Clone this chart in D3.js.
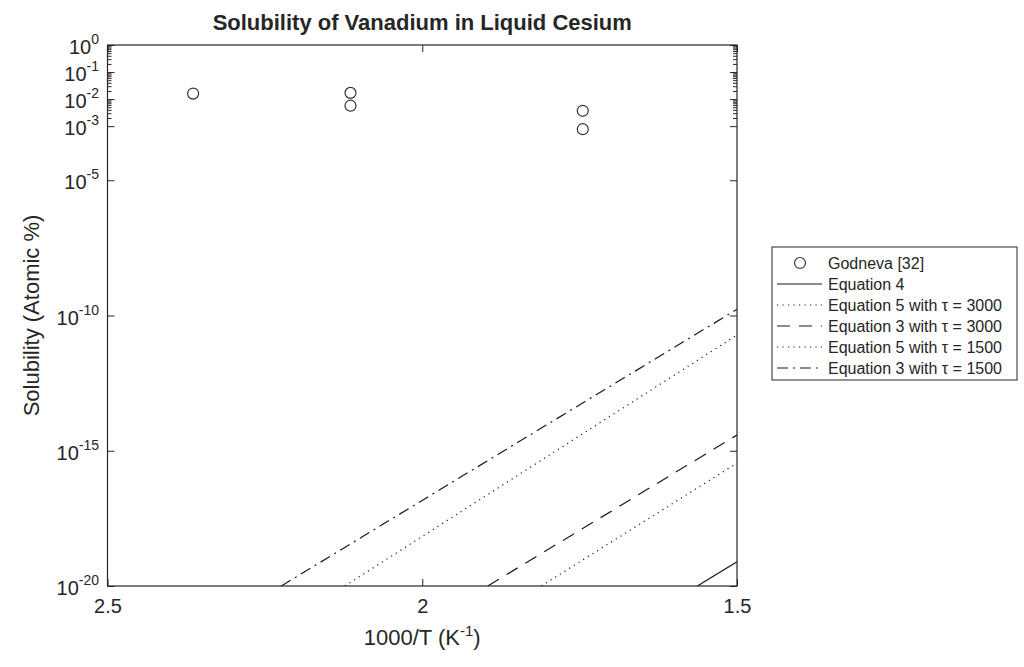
<!DOCTYPE html>
<html><head><meta charset="utf-8">
<script src="https://cdn.jsdelivr.net/npm/d3@7"></script>
<style>
body{margin:0;background:#fff;}
text{font-family:"Liberation Sans",Arial,Helvetica,sans-serif;fill:#262626;}
</style></head>
<body><svg id="c" width="1024" height="667"></svg>
<script>
// ---- data ----
const godnevaX = [2.364, 2.114, 2.114, 1.745, 1.745];
const godnevaY = [1.6e-2, 1.7e-2, 5.7e-3, 3.7e-3, 7.7e-4];

const eq4X = [1.563, 1.5];
const eq4Y = [1e-20, 7.9e-20];
const eq5t3000X = [1.811, 1.5];
const eq5t3000Y = [1e-20, 3.5e-16];
const eq3t3000X = [1.896, 1.5];
const eq3t3000Y = [1e-20, 3.8e-15];
const eq5t1500X = [2.123, 1.5];
const eq5t1500Y = [1e-20, 1.9e-11];
const eq3t1500X = [2.224, 1.5];
const eq3t1500Y = [1e-20, 1.7e-10];

const xTicks = [2.5, 2, 1.5];
const xTickLabels = ["2.5", "2", "1.5"];
const yTicks = [1e0, 1e-1, 1e-2, 1e-3, 1e-5, 1e-10, 1e-15, 1e-20];
const yTickExps = ["0", "-1", "-2", "-3", "-5", "-10", "-15", "-20"];
const yMinorDecades = [1e-1, 1e-2, 1e-3];

const legendLabels = ["Godneva [32]", "Equation 4", "Equation 5 with \u03C4 = 3000",
  "Equation 3 with \u03C4 = 3000", "Equation 5 with \u03C4 = 1500", "Equation 3 with \u03C4 = 1500"];

// ---- layout ----
const svg = d3.select("#c");
const L = 107.5, R = 737, T = 45, B = 586;
const x = d3.scaleLinear().domain([2.5, 1.5]).range([L, R]);
const y = d3.scaleLog().domain([1e-20, 1]).range([B, T]);
const ink = "#262626";

const styles = {
  solid: null,
  dotted: "1.2,4.3",
  dashed: "13,9",
  dashdot: "11,5,2,5"
};

const series = [
  {xs: eq4X, ys: eq4Y, dash: styles.solid},
  {xs: eq5t3000X, ys: eq5t3000Y, dash: styles.dotted},
  {xs: eq3t3000X, ys: eq3t3000Y, dash: styles.dashed},
  {xs: eq5t1500X, ys: eq5t1500Y, dash: styles.dotted},
  {xs: eq3t1500X, ys: eq3t1500Y, dash: styles.dashdot}
];

svg.append("defs").append("clipPath").attr("id", "clip")
  .append("rect").attr("x", L).attr("y", T).attr("width", R - L).attr("height", B - T);

const plot = svg.append("g").attr("clip-path", "url(#clip)");
const line = d3.line().x(d => x(d[0])).y(d => y(d[1]));
series.forEach(s => {
  plot.append("path")
    .attr("d", line(s.xs.map((v, i) => [v, s.ys[i]])))
    .attr("fill", "none").attr("stroke", "#1a1a1a").attr("stroke-width", 1.2)
    .attr("stroke-dasharray", s.dash);
});

plot.selectAll("circle.g").data(godnevaX.map((v, i) => [v, godnevaY[i]])).enter()
  .append("circle").attr("cx", d => x(d[0])).attr("cy", d => y(d[1])).attr("r", 5.5)
  .attr("fill", "none").attr("stroke", "#333").attr("stroke-width", 1.2);

// ---- axes ----
function styleAxis(g) {
  g.select(".domain").remove();
  g.selectAll(".tick line").attr("stroke", ink);
}
const minorVals = [];
yMinorDecades.forEach(d => { for (let k = 2; k <= 9; k++) minorVals.push(d * k); });

svg.append("g").attr("transform", `translate(${L},0)`)
  .call(d3.axisLeft(y).tickValues(yTicks).tickSize(-7).tickFormat("")).call(styleAxis);
svg.append("g").attr("transform", `translate(${L},0)`)
  .call(d3.axisLeft(y).tickValues(minorVals).tickSize(-4).tickFormat("")).call(styleAxis);
svg.append("g").attr("transform", `translate(${R},0)`)
  .call(d3.axisRight(y).tickValues(yTicks).tickSize(-7).tickFormat("")).call(styleAxis);
svg.append("g").attr("transform", `translate(${R},0)`)
  .call(d3.axisRight(y).tickValues(minorVals).tickSize(-4).tickFormat("")).call(styleAxis);
const gb = svg.append("g").attr("transform", `translate(0,${B})`)
  .call(d3.axisBottom(x).tickValues(xTicks).tickSize(-7).tickPadding(10)
    .tickFormat((d, i) => xTickLabels[i]));
styleAxis(gb);
gb.selectAll(".tick text").attr("font-size", 20).attr("fill", ink)
  .attr("font-family", '"Liberation Sans",Arial,sans-serif').attr("dy", "0.85em");
svg.append("g").attr("transform", `translate(0,${T})`)
  .call(d3.axisTop(x).tickValues(xTicks).tickSize(-7).tickFormat("")).call(styleAxis);

// y tick labels with superscripts
yTicks.forEach((v, i) => {
  const t = svg.append("text").attr("x", 99).attr("y", y(v) + 9)
    .attr("text-anchor", "end").attr("font-size", 20);
  t.append("tspan").text("10");
  t.append("tspan").attr("font-size", 14).attr("dy", -10).text(yTickExps[i]);
});

// box
svg.append("rect").attr("x", L).attr("y", T).attr("width", R - L).attr("height", B - T)
  .attr("fill", "none").attr("stroke", ink).attr("stroke-width", 1.2);

// title & labels
svg.append("text").attr("x", (L + R) / 2).attr("y", 30).attr("text-anchor", "middle")
  .attr("font-size", 22).attr("font-weight", "bold").attr("fill", "#000")
  .text("Solubility of Vanadium in Liquid Cesium");
const xl = svg.append("text").attr("x", (L + R) / 2).attr("y", 645).attr("text-anchor", "middle")
  .attr("font-size", 22);
xl.append("tspan").text("1000/T (K");
xl.append("tspan").attr("font-size", 15).attr("dy", -9).text("-1");
xl.append("tspan").attr("dy", 9).text(")");
svg.append("text").attr("transform", `translate(39,${(T + B) / 2}) rotate(-90)`)
  .attr("text-anchor", "middle").attr("font-size", 22).text("Solubility (Atomic %)");

// legend
const lx = 772, ly = 247, lw = 245, lh = 133, rowH = 21;
svg.append("rect").attr("x", lx).attr("y", ly).attr("width", lw).attr("height", lh)
  .attr("fill", "#fff").attr("stroke", ink).attr("stroke-width", 1);
const legendStyles = [null, styles.solid, styles.dotted, styles.dashed, styles.dotted, styles.dashdot];
legendLabels.forEach((lab, i) => {
  const cy = ly + 16 + i * rowH;
  if (i === 0) {
    svg.append("circle").attr("cx", lx + 28).attr("cy", cy).attr("r", 5.5)
      .attr("fill", "none").attr("stroke", "#333").attr("stroke-width", 1.2);
  } else {
    svg.append("line").attr("x1", lx + 5).attr("x2", lx + 50).attr("y1", cy).attr("y2", cy)
      .attr("stroke", "#1a1a1a").attr("stroke-width", 1.2).attr("stroke-dasharray", legendStyles[i]);
  }
  svg.append("text").attr("x", lx + 56).attr("y", cy + 5.5).attr("font-size", 16).text(lab);
});
</script></body></html>
